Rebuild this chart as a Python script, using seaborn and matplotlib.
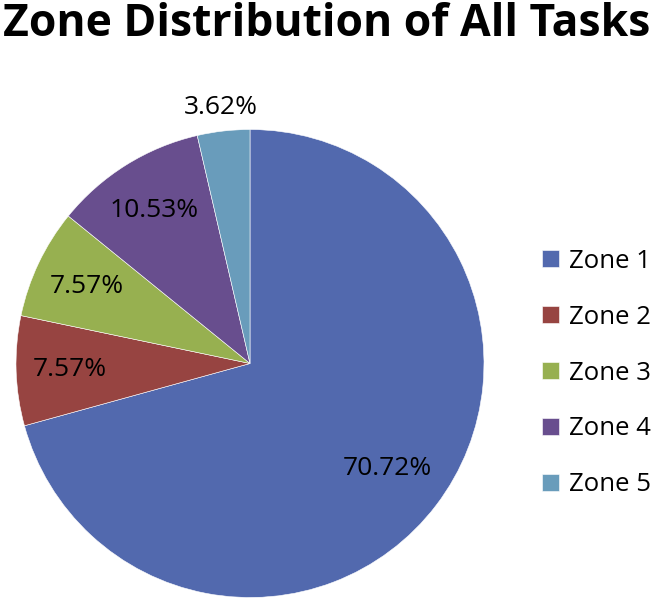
import matplotlib
matplotlib.use("Agg")
import matplotlib.pyplot as plt
import seaborn as sns

zones = ["Zone 1", "Zone 2", "Zone 3", "Zone 4", "Zone 5"]
shares = [70.72, 7.57, 7.57, 10.53, 3.62]
colors = ["#5269ae", "#974441", "#97b050", "#684e8e", "#699cbb"]

sns.set_theme(style="white")
plt.rcParams["font.family"] = ["Open Sans", "DejaVu Sans"]
plt.rcParams["text.color"] = "black"

fig = plt.figure(figsize=(6.54, 6.0), dpi=100)
ax = fig.add_axes([16 / 654, 2.5 / 600, 468 / 654, 468 / 600])

wedges, texts, autotexts = ax.pie(
    shares, colors=colors, startangle=90, counterclock=False,
    autopct="%.2f%%", pctdistance=0.77,
    wedgeprops=dict(edgecolor="white", linewidth=0.4),
    textprops=dict(fontsize=19, color="black"),
)
# use the published percentages as they are (they sum to 100.01)
for t, v in zip(autotexts, shares):
    t.set_text(f"{v:.2f}%")
# small slice label sits outside the pie, the big one a bit inward
x, y = autotexts[4].get_position()
autotexts[4].set_position((x / 0.77 * 1.10, y / 0.77 * 1.10))
x, y = autotexts[0].get_position()
autotexts[0].set_position((x / 0.77 * 0.74, y / 0.77 * 0.74))

ax.set_xlim(-1, 1)
ax.set_ylim(-1, 1)
ax.set_aspect("equal")
ax.axis("off")

fig.legend(wedges, zones, loc="center left", bbox_to_anchor=(519 / 654, 1 - 373 / 600),
           frameon=False, fontsize=18.5, handlelength=0.65, handleheight=0.65,
           handletextpad=0.4, labelspacing=1.2, labelcolor="black")

fig.text(0.5, 1 - 24 / 600, "Zone Distribution of All Tasks", ha="center", va="center",
         fontsize=32, fontweight="bold", color="black")

fig.savefig("out.png", dpi=100)
